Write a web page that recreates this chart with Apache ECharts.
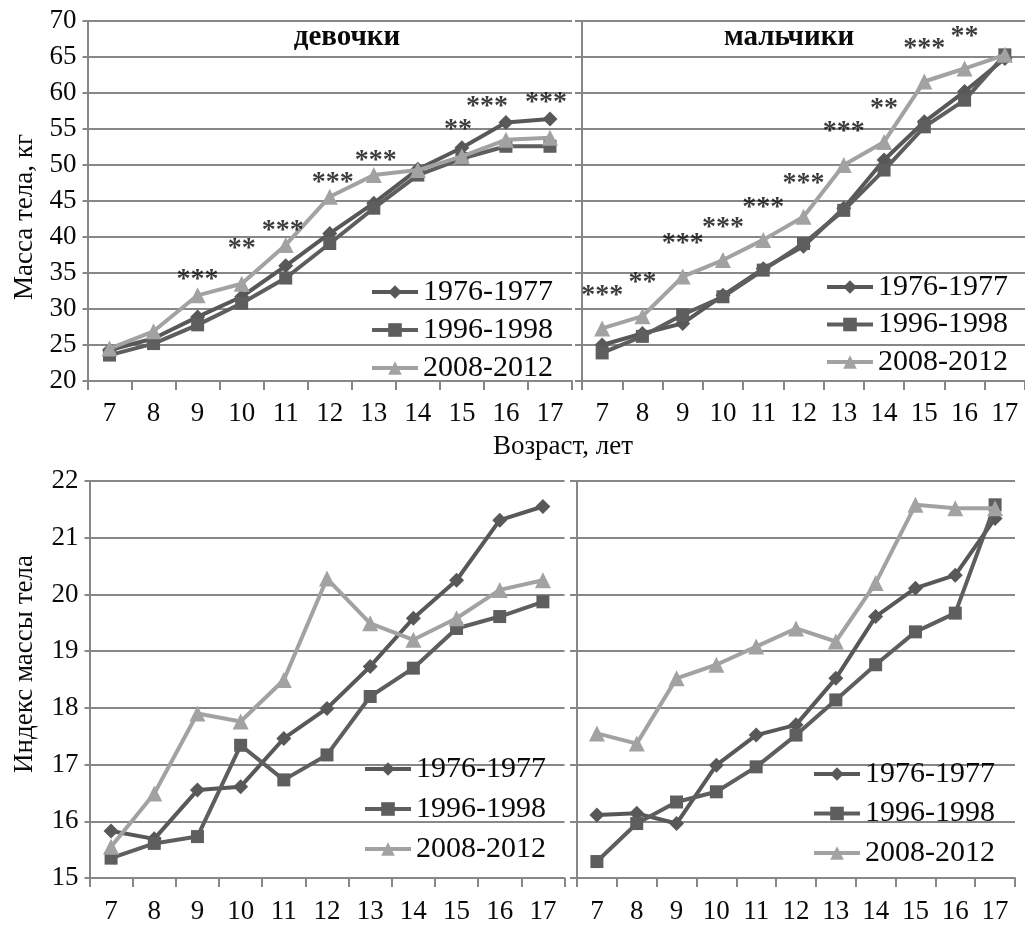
<!DOCTYPE html>
<html>
<head>
<meta charset="utf-8">
<title>Масса тела и индекс массы тела</title>
<script src="https://cdn.jsdelivr.net/npm/echarts@6/dist/echarts.min.js"></script>
<style>
  html, body { margin: 0; padding: 0; background: #ffffff; }
  #chart { width: 1025px; height: 928px; }
</style>
</head>
<body>
<div id="chart"></div>
<script>
// Age groups (years)
const ages = ['7', '8', '9', '10', '11', '12', '13', '14', '15', '16', '17'];
const cohorts = ['1976-1977', '1996-1998', '2008-2012'];

// Body mass, kg — girls
const girlsMass1976 = [24.3, 25.9, 28.9, 31.7, 36.0, 40.5, 44.7, 49.4, 52.4, 55.9, 56.4];
const girlsMass1996 = [23.6, 25.2, 27.8, 30.8, 34.3, 39.1, 44.0, 48.6, 50.9, 52.6, 52.6];
const girlsMass2008 = [24.5, 26.9, 31.9, 33.5, 38.9, 45.6, 48.6, 49.3, 51.2, 53.5, 53.8];

// Body mass, kg — boys
const boysMass1976 = [25.0, 26.6, 28.0, 31.9, 35.6, 38.7, 44.0, 50.7, 56.0, 60.2, 64.8];
const boysMass1996 = [23.9, 26.2, 29.2, 31.7, 35.4, 39.1, 43.7, 49.3, 55.3, 59.0, 65.3];
const boysMass2008 = [27.3, 29.0, 34.5, 36.8, 39.6, 42.8, 50.0, 53.2, 61.6, 63.4, 65.3];

// Body mass index — girls
const girlsBmi1976 = [15.83, 15.69, 16.55, 16.61, 17.46, 17.99, 18.73, 19.58, 20.25, 21.31, 21.55];
const girlsBmi1996 = [15.35, 15.61, 15.73, 17.34, 16.73, 17.17, 18.20, 18.70, 19.40, 19.61, 19.87];
const girlsBmi2008 = [15.55, 16.49, 17.90, 17.76, 18.49, 20.28, 19.49, 19.20, 19.58, 20.08, 20.25];

// Body mass index — boys
const boysBmi1976 = [16.11, 16.14, 15.96, 16.99, 17.52, 17.70, 18.52, 19.61, 20.11, 20.34, 21.34];
const boysBmi1996 = [15.29, 15.96, 16.34, 16.52, 16.96, 17.52, 18.14, 18.76, 19.34, 19.67, 21.58];
const boysBmi2008 = [17.55, 17.37, 18.52, 18.76, 19.08, 19.40, 19.17, 20.20, 21.58, 21.52, 21.52];

// Significance of differences in body mass, by age
const girlsMassStars = ['', '', '***', '**', '***', '***', '***', '', '**', '***', '***'];
const boysMassStars = ['***', '**', '***', '***', '***', '***', '***', '**', '***', '**', ''];

// Value axis ranges
const massMin = 20, massMax = 70, massStep = 5;
const bmiMin = 15, bmiMax = 22, bmiStep = 1;

// ---- styling ----
const FONT = "'Liberation Serif', 'DejaVu Serif', serif";
const TEXT_COLOR = '#0a0a0a';
const GRID_COLOR = '#878787';
const cohortStyle = [
  { color: '#585858', symbol: 'diamond', size: 15 },
  { color: '#5e5e5e', symbol: 'rect', size: 13 },
  { color: '#a2a2a2', symbol: 'triangle', size: 16 }
];

// pixel layout of the four panels
const grids = [
  { left: 87.5, top: 21, width: 484.5, height: 360 },   // girls, mass
  { left: 582, top: 21, width: 448, height: 360 },      // boys, mass
  { left: 89.5, top: 481, width: 475, height: 397 },    // girls, BMI
  { left: 577, top: 481, width: 438, height: 397 }      // boys, BMI
];

// label shifts of the star marks (px) per panel
const starShift = {
  girls: { dy: [0, 0, -16, -35, -14, -14, -14, 0, -18, -16, -16], dx: [0, 0, 0, 0, -3, 3, 2, 0, -4, -19, -4] },
  boys: { dy: [-33, -33, -33, -32, -32, -33, -33, -33, -33, -32, 0], dx: [0, 0, 0, 0, 0, 0, 0, 0, 0, 0, 0] }
};

function xAxisFor(gi, labelMargin) {
  return {
    type: 'category', gridIndex: gi, data: ages, boundaryGap: true,
    axisLine: { show: true, lineStyle: { color: GRID_COLOR, width: 2 } },
    axisTick: { show: true, length: 9, inside: false, lineStyle: { color: GRID_COLOR, width: 2 } },
    axisLabel: { show: true, margin: labelMargin, color: TEXT_COLOR, fontFamily: FONT, fontSize: 27 },
    splitLine: { show: false }
  };
}

function yAxisFor(gi, min, max, step, showLabels, tickLen) {
  return {
    type: 'value', gridIndex: gi, min: min, max: max, interval: step,
    axisLine: { show: true, lineStyle: { color: GRID_COLOR, width: 2 } },
    axisTick: { show: true, length: tickLen, lineStyle: { color: GRID_COLOR, width: 2 } },
    axisLabel: { show: showLabels, margin: 11, color: TEXT_COLOR, fontFamily: FONT, fontSize: 27 },
    splitLine: { show: true, lineStyle: { color: GRID_COLOR, width: 2 } }
  };
}

function cohortSeries(gi, values, k) {
  const st = cohortStyle[k];
  return {
    type: 'line', name: cohorts[k], xAxisIndex: gi, yAxisIndex: gi,
    data: values, symbol: st.symbol, symbolSize: st.size,
    lineStyle: { color: st.color, width: 4 },
    itemStyle: { color: st.color },
    z: 2 + k
  };
}

function starSeries(gi, stars, groups, shift) {
  const data = [];
  stars.forEach((s, i) => {
    if (!s) return;
    const top = Math.max(groups[0][i], groups[1][i], groups[2][i]);
    data.push({
      value: [i, top],
      label: { formatter: s, offset: [shift.dx[i], shift.dy[i]] }
    });
  });
  return {
    type: 'scatter', name: 'sig', xAxisIndex: gi, yAxisIndex: gi,
    symbolSize: 0, data: data, silent: true, z: 10,
    label: {
      show: true, position: 'inside', color: TEXT_COLOR,
      fontFamily: FONT, fontSize: 28, fontWeight: 'bold', align: 'center', verticalAlign: 'middle'
    }
  };
}

function legendAt(left, top, gap) {
  return {
    data: cohorts, orient: 'vertical', left: left, top: top,
    itemWidth: 46, itemHeight: 17, itemGap: gap,
    lineStyle: { width: 4 },
    textStyle: { fontFamily: FONT, fontSize: 30, color: TEXT_COLOR, lineHeight: 30 },
    selectedMode: false
  };
}

const chart = echarts.init(document.getElementById('chart'), null, { renderer: 'canvas' });

const option = {
  animation: false,
  backgroundColor: '#ffffff',
  grid: grids.map(g => Object.assign({ containLabel: false }, g)),
  xAxis: [xAxisFor(0, 19), xAxisFor(1, 19), xAxisFor(2, 20), xAxisFor(3, 20)],
  yAxis: [
    yAxisFor(0, massMin, massMax, massStep, true, 5),
    yAxisFor(1, massMin, massMax, massStep, false, 7),
    yAxisFor(2, bmiMin, bmiMax, bmiStep, true, 5),
    yAxisFor(3, bmiMin, bmiMax, bmiStep, false, 7)
  ],
  legend: [
    legendAt(365, 272, 8),
    legendAt(820, 267, 7.5),
    legendAt(358, 749, 10),
    legendAt(807, 754, 9.5)
  ],
  series: [
    cohortSeries(0, girlsMass1976, 0), cohortSeries(0, girlsMass1996, 1), cohortSeries(0, girlsMass2008, 2),
    cohortSeries(1, boysMass1976, 0), cohortSeries(1, boysMass1996, 1), cohortSeries(1, boysMass2008, 2),
    cohortSeries(2, girlsBmi1976, 0), cohortSeries(2, girlsBmi1996, 1), cohortSeries(2, girlsBmi2008, 2),
    cohortSeries(3, boysBmi1976, 0), cohortSeries(3, boysBmi1996, 1), cohortSeries(3, boysBmi2008, 2),
    starSeries(0, girlsMassStars, [girlsMass1976, girlsMass1996, girlsMass2008], starShift.girls),
    starSeries(1, boysMassStars, [boysMass1976, boysMass1996, boysMass2008], starShift.boys)
  ],
  graphic: [
    { type: 'text', x: 347, y: 38, style: { text: 'девочки', font: "bold 29px " + FONT, fill: TEXT_COLOR, align: 'center', verticalAlign: 'middle' } },
    { type: 'text', x: 789, y: 38, style: { text: 'мальчики', font: "bold 29px " + FONT, fill: TEXT_COLOR, align: 'center', verticalAlign: 'middle' } },
    { type: 'text', x: 563, y: 447, style: { text: 'Возраст, лет', font: "27px " + FONT, fill: TEXT_COLOR, align: 'center', verticalAlign: 'middle' } },
    { type: 'text', x: 25, y: 217, rotation: Math.PI / 2, style: { text: 'Масса тела, кг', font: "27px " + FONT, fill: TEXT_COLOR, align: 'center', verticalAlign: 'middle' } },
    { type: 'text', x: 25, y: 664, rotation: Math.PI / 2, style: { text: 'Индекс массы тела', font: "27px " + FONT, fill: TEXT_COLOR, align: 'center', verticalAlign: 'middle' } }
  ]
};

chart.setOption(option);
</script>
</body>
</html>
